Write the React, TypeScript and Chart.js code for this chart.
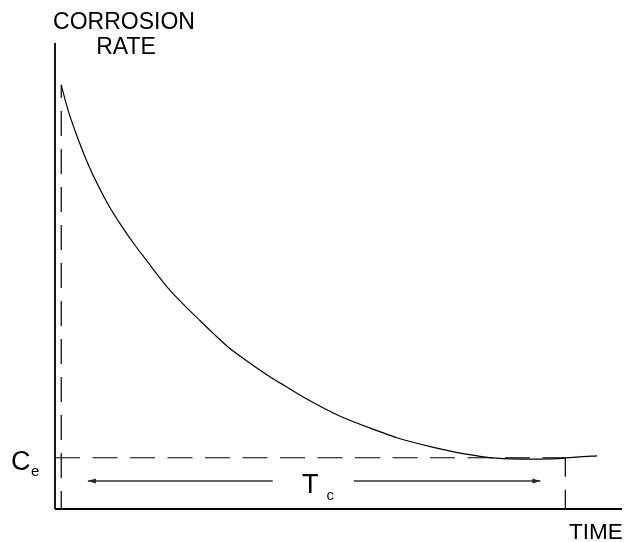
import React, { useEffect, useRef } from "react";
import { Chart, registerables } from "chart.js";

Chart.register(...registerables);

// Corrosion rate curve (time, rate) in relative units 0..100
const timeValues = [1.1, 2.3, 4.1, 5.8, 7.6, 9.4, 11.7, 14.1, 15.8, 20.3, 25.6, 27.9, 30.8, 34.4, 37.9, 40.3, 44.4, 50.3, 57.3, 60.3, 66.2, 72.0, 77.9, 83.8, 88.5, 92.6, 95.6];
const rateValues = [91.0, 85.6, 79.3, 74.1, 69.4, 65.3, 60.8, 56.6, 53.9, 46.9, 40.4, 37.7, 34.5, 31.3, 28.4, 26.6, 23.6, 19.9, 16.6, 15.3, 13.4, 11.9, 10.9, 10.7, 10.8, 11.2, 11.4];

// Reference levels
const axisRange = [0, 100];
const equilibriumRate = [11.0]; // C_e
const tcBounds = [1.1, 90.0]; // start / end of T_c
const arrowLevel = [6.0];
const arrowLeft = [5.8, 38.4]; // tip, segment end
const arrowRight = [52.7, 85.6]; // segment start, tip
const startRate = [91.0];

const FONT = '"Liberation Sans", Arial, Helvetica, sans-serif';

const labelsPlugin = {
  id: "labelsPlugin",
  afterDatasetsDraw(chart: any) {
    const { ctx, scales } = chart;
    const x = scales.x;
    const y = scales.y;
    ctx.save();
    ctx.fillStyle = "#000";
    ctx.textBaseline = "alphabetic";

    // axis titles
    ctx.font = `23px ${FONT}`;
    ctx.textAlign = "center";
    ctx.fillText("CORROSION", 124, 28.5);
    ctx.fillText("RATE", 126, 53.5);
    ctx.textAlign = "left";
    ctx.font = `22.5px ${FONT}`;
    ctx.fillText("TIME", 569, 538.5);

    // C_e label
    const ceY = y.getPixelForValue(equilibriumRate[0]);
    ctx.font = `27px ${FONT}`;
    ctx.fillText("C", 11, ceY + 12.5);
    ctx.font = `15px ${FONT}`;
    ctx.fillText("e", 31, ceY + 18.5);

    // T_c label
    const aY = y.getPixelForValue(arrowLevel[0]);
    ctx.font = `27px ${FONT}`;
    ctx.fillText("T", 302, aY + 11.5);
    ctx.font = `15px ${FONT}`;
    ctx.fillText("c", 326.5, aY + 19);

    // arrowheads
    const head = (tipX: number, dir: number) => {
      ctx.beginPath();
      ctx.moveTo(tipX, aY);
      ctx.lineTo(tipX - dir * 8, aY - 2.5);
      ctx.lineTo(tipX - dir * 8, aY + 2.5);
      ctx.closePath();
      ctx.fill();
    };
    ctx.fillStyle = "#222";
    head(x.getPixelForValue(arrowLeft[0]), -1);
    head(x.getPixelForValue(arrowRight[1]), 1);
    ctx.restore();
  },
};

export default function App() {
  const ref = useRef<HTMLCanvasElement>(null);

  useEffect(() => {
    if (!ref.current) return;
    const pts = (xs: number[], ys: number[]) => xs.map((v, i) => ({ x: v, y: ys[i] }));
    const lineDs = (data: any[], extra: any = {}) => ({
      data,
      borderColor: "#000",
      borderWidth: 1.2,
      pointRadius: 0,
      fill: false,
      tension: 0,
      clip: false,
      ...extra,
    });
    const chart = new Chart(ref.current, {
      type: "line",
      data: {
        datasets: [
          // axes
          lineDs(pts([axisRange[0], axisRange[0]], [axisRange[1], axisRange[0]]), { borderWidth: 1.8 }),
          lineDs(pts([axisRange[0], axisRange[1]], [axisRange[0], axisRange[0]]), { borderWidth: 1.8 }),
          // curve
          lineDs(pts(timeValues, rateValues), { cubicInterpolationMode: "monotone", borderWidth: 1.2 }),
          // C_e dashed line
          lineDs(pts([axisRange[0], tcBounds[1]], [equilibriumRate[0], equilibriumRate[0]]), { borderDash: [25, 12.5] }),
          // left dashed vertical
          lineDs(pts([tcBounds[0], tcBounds[0]], [startRate[0], axisRange[0]]), { borderDash: [25, 13], borderDashOffset: 12 }),
          // right dashed vertical
          lineDs(pts([tcBounds[1], tcBounds[1]], [equilibriumRate[0], axisRange[0]]), { borderDash: [19, 13] }),
          // arrow segments
          lineDs(pts([arrowLeft[0], arrowLeft[1]], [arrowLevel[0], arrowLevel[0]]), { borderColor: "#333", borderWidth: 1.5 }),
          lineDs(pts([arrowRight[0], arrowRight[1]], [arrowLevel[0], arrowLevel[0]]), { borderColor: "#333", borderWidth: 1.5 }),
        ],
      },
      options: {
        animation: false,
        responsive: false,
        events: [],
        layout: { padding: { left: 55, top: 43, right: 4, bottom: 33 } },
        plugins: { legend: { display: false }, tooltip: { enabled: false } },
        scales: {
          x: { type: "linear", min: axisRange[0], max: axisRange[1], display: false },
          y: { type: "linear", min: axisRange[0], max: axisRange[1], display: false },
        },
      },
      plugins: [labelsPlugin],
    });
    return () => chart.destroy();
  }, []);

  return (
    <div style={{ position: "absolute", left: 0, top: 0, width: 626, height: 542, background: "#fff" }}>
      <canvas ref={ref} width={626} height={542} style={{ width: 626, height: 542 }} />
    </div>
  );
}
